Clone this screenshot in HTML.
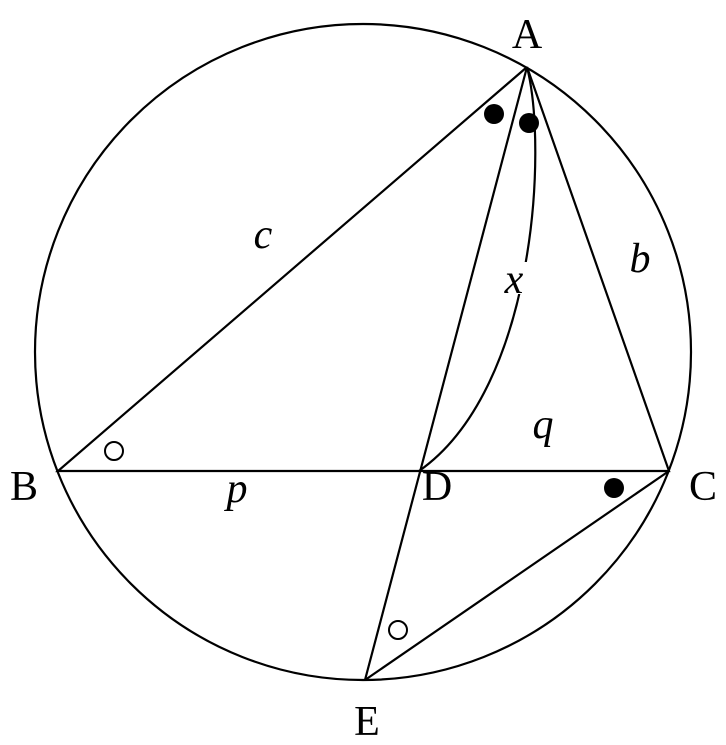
<!DOCTYPE html>
<html><head><meta charset="utf-8"><style>
html,body{margin:0;padding:0;background:#fff;}
svg{display:block;}
text{font-family:"Liberation Serif",serif;font-size:42px;fill:#000;}
.i{font-style:italic;}
</style></head><body>
<svg width="726" height="745" viewBox="0 0 726 745" xmlns="http://www.w3.org/2000/svg">
<g fill="none" stroke="#000" stroke-width="2.2">
<circle cx="363" cy="352" r="328"/>
<polyline points="527,67 58,471 669,471 527,67"/>
<line x1="527" y1="67" x2="365" y2="680"/>
<line x1="365" y1="680" x2="669" y2="471"/>
<path d="M527,67 C548,150 535,390 419,471"/>
</g>
<rect x="498" y="262" width="32" height="32" fill="#fff"/>
<circle cx="494" cy="114" r="10"/>
<circle cx="529" cy="123" r="10"/>
<circle cx="614" cy="488" r="10"/>
<circle cx="114" cy="451" r="9" fill="#fff" stroke="#000" stroke-width="2"/>
<circle cx="398" cy="630" r="9" fill="#fff" stroke="#000" stroke-width="2"/>
<text x="527" y="48" text-anchor="middle">A</text>
<text x="24" y="500" text-anchor="middle">B</text>
<text x="703" y="500" text-anchor="middle">C</text>
<text x="437" y="500" text-anchor="middle">D</text>
<text x="367" y="735" text-anchor="middle">E</text>
<text class="i" x="263" y="248" text-anchor="middle">c</text>
<text class="i" x="640" y="272" text-anchor="middle">b</text>
<text class="i" x="514" y="293" text-anchor="middle">x</text>
<text class="i" x="543" y="438" text-anchor="middle">q</text>
<text class="i" x="237" y="502" text-anchor="middle">p</text>
</svg>
</body></html>
